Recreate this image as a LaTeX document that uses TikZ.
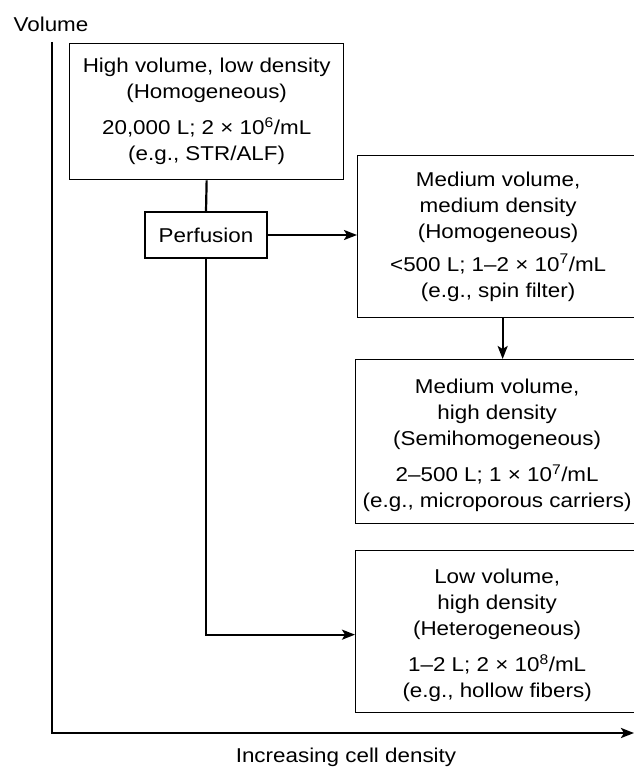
\documentclass[tikz,border=0pt]{standalone}
\usepackage{fontspec}
\setmainfont[FakeStretch=1.12]{Liberation Sans}
\usetikzlibrary{arrows.meta}
\begin{document}
\begin{tikzpicture}[x=1pt,y=-1pt,
  every node/.style={font=\fontsize{20}{26}\selectfont, text=black},
  box/.style={draw, line width=1.3pt, align=center, anchor=north west, inner sep=0pt},
  conn/.style={line width=2.2pt},
  tip/.style={-{Stealth[length=13pt,width=10pt,inset=3pt]}},
  arr/.style={conn, tip},
  axis/.style={line width=2.6pt},
]
\useasboundingbox (0,0) rectangle (634,768);

% axes
\coordinate (ytop) at (52,42);
\coordinate (origin) at (52,733);
\coordinate (xend) at (634,733);
\draw[axis, tip] (ytop) -- (origin) -- (xend);
\node (ylab) at (51,24) {Volume};
\node (xlab) at (346,757) {Increasing cell density};

% boxes
\node[box, minimum width=274pt, minimum height=136pt] (b1) at (69,43)
  {High volume, low density\\(Homogeneous)\\[10pt]20,000 L; 2 × 10\textsuperscript{6}/mL\\(e.g., STR/ALF)};
\node[draw, line width=1.3pt, minimum width=122pt, minimum height=46pt, inner sep=0pt] (perf) at (206,235) {Perfusion};
\node[box, minimum width=281pt, minimum height=162pt] (b2) at (357,155)
  {Medium volume,\\medium density\\(Homogeneous)\\[7pt]<500 L; 1–2 × 10\textsuperscript{7}/mL\\(e.g., spin filter)};
\node[box, minimum width=283pt, minimum height=164pt] (b3) at (355,359)
  {\\[-4pt]Medium volume,\\high density\\(Semihomogeneous)\\[10pt]2–500 L; 1 × 10\textsuperscript{7}/mL\\(e.g., microporous carriers)};
\node[box, minimum width=283pt, minimum height=162pt] (b4) at (355,550)
  {\\[-4pt]Low volume,\\high density\\(Heterogeneous)\\[10pt]1–2 L; 2 × 10\textsuperscript{8}/mL\\(e.g., hollow fibers)};

% connectors
\draw[conn] (b1.south) -- (perf.north);
\draw[arr] (perf.east) -- (perf.east -| b2.west);
\draw[arr] ([xshift=4.5pt]b2.south) -- ([xshift=4.5pt]b2.south |- b3.north);
\draw[arr] (perf.south) |- ([yshift=-3pt]b4.west);
\end{tikzpicture}
\end{document}
